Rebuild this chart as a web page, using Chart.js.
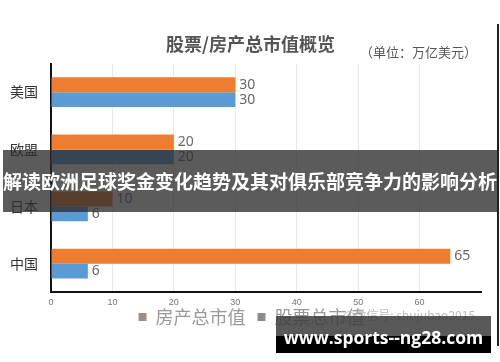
<!DOCTYPE html>
<html>
<head>
<meta charset="utf-8">
<script src="https://cdn.jsdelivr.net/npm/chart.js@4.4.0/dist/chart.umd.min.js"></script>
<style>
  html, body { margin: 0; padding: 0; background: #fff; }
  #wrap { position: relative; width: 500px; height: 362px; overflow: hidden; font-family: "Noto Sans CJK SC", "Noto Sans", sans-serif; }
  #chart { position: absolute; left: 0; top: 0; }
  .unit { position: absolute; left: 360px; top: 42px; font-size: 13px; color: #555; }
  .mark { position: absolute; left: 343px; top: 306px; font-size: 12px; color: #bbb; }
  .banner { position: absolute; left: 3px; top: 150px; width: 494px; height: 62px; background: rgba(45,45,45,0.78);
            color: #fff; font-weight: bold; font-size: 19px; line-height: 62px; text-align: center; white-space: nowrap; }
  .site { position: absolute; left: 276px; top: 316px; width: 215px; height: 37px;
          background: linear-gradient(to bottom, rgba(60,60,60,0.85) 0, rgba(60,60,60,0.85) 20px, #000 20px, #000 100%);
          color: #fff; font-family: "Open Sans", sans-serif; font-weight: bold; font-size: 17.5px; line-height: 42px; text-align: center; }
  .edge { position: absolute; left: 497px; top: 24px; width: 2px; height: 322px; background: #222; }
</style>
</head>
<body>
<div id="wrap">
  <canvas id="chart" width="500" height="362"></canvas>
  <div class="unit">（单位：万亿美元）</div>
  <div class="mark">@微信号: shujubao2015</div>
  <div class="banner">解读欧洲足球奖金变化趋势及其对俱乐部竞争力的影响分析</div>
  <div class="site">www.sports--ng28.com</div>
  <div class="edge"></div>
</div>
<script>
// dados do gráfico
const categories = ['美国', '欧盟', '日本', '中国'];
const houseValues = [30, 20, 10, 65];
const stockValues = [30, 20, 6, 6];
const seriesNames = ['房产总市值', '股票总市值'];
const xTicks = [0, 10, 20, 30, 40, 50, 60];

// rótulos no fim de cada barra
const barLabels = {
    id: 'barLabels',
    afterDatasetsDraw(chart) {
        const ctx = chart.ctx;
        ctx.save();
        ctx.font = '14px "Noto Sans", sans-serif';
        ctx.fillStyle = '#666';
        ctx.textBaseline = 'middle';
        chart.data.datasets.forEach((ds, i) => {
            chart.getDatasetMeta(i).data.forEach((bar, j) => {
                ctx.fillText(ds.data[j], bar.x + 4, bar.y);
            });
        });
        ctx.restore();
    }
};

// desloca título e legenda um pouco (centro do original fica mais à direita)
const nudgeBoxes = {
    id: 'nudgeBoxes',
    afterLayout(chart) {
        const t = chart.titleBlock, l = chart.legend;
        if (t) { t.left += 10; t.right += 10; }
        if (l) { l.left += 11; l.right += 11; l.top -= 17; l.bottom -= 17; }
    }
};

new Chart(document.getElementById('chart'), {
    type: 'bar',
    data: {
        labels: categories,
        datasets: [
            { label: seriesNames[0], data: houseValues, backgroundColor: '#ED7D31' },
            { label: seriesNames[1], data: stockValues, backgroundColor: '#5B9BD5' }
        ]
    },
    options: {
        indexAxis: 'y',
        responsive: false,
        animation: false,
        layout: { padding: { left: 0, right: 19, top: 0, bottom: 9 } },
        datasets: { bar: { categoryPercentage: 0.52, barPercentage: 1 } },
        plugins: {
            title: {
                display: true,
                text: '股票/房产总市值概览',
                color: '#555',
                font: { family: '"Noto Sans CJK SC"', size: 18, weight: 'bold' },
                padding: { top: 33, bottom: 9 }
            },
            legend: {
                position: 'bottom',
                labels: {
                    color: '#999',
                    font: { family: '"Noto Sans CJK SC"', size: 18 },
                    boxWidth: 8, boxHeight: 8, padding: 12,
                    generateLabels: (chart) => seriesNames.map((n, i) => ({
                        text: n, fillStyle: i === 0 ? '#9a8f88' : '#8c8c8c', strokeStyle: 'transparent',
                        lineWidth: 0, datasetIndex: i, fontColor: '#999'
                    }))
                }
            },
            tooltip: { enabled: false }
        },
        scales: {
            x: {
                min: 0, max: 70,
                afterBuildTicks: (axis) => { axis.ticks = xTicks.map(v => ({ value: v })); },
                grid: { color: '#e8e8e8', drawTicks: false },
                border: { color: '#111', width: 2 },
                ticks: { color: '#777', font: { size: 9 }, padding: 5 }
            },
            y: {
                afterFit: (axis) => { axis.width = 51; },
                grid: { display: false },
                border: { color: '#111', width: 2 },
                ticks: { color: '#333', font: { family: '"Noto Sans CJK SC"', size: 14 }, padding: 5 }
            }
        }
    },
    plugins: [barLabels, nudgeBoxes]
});
</script>
</body>
</html>
